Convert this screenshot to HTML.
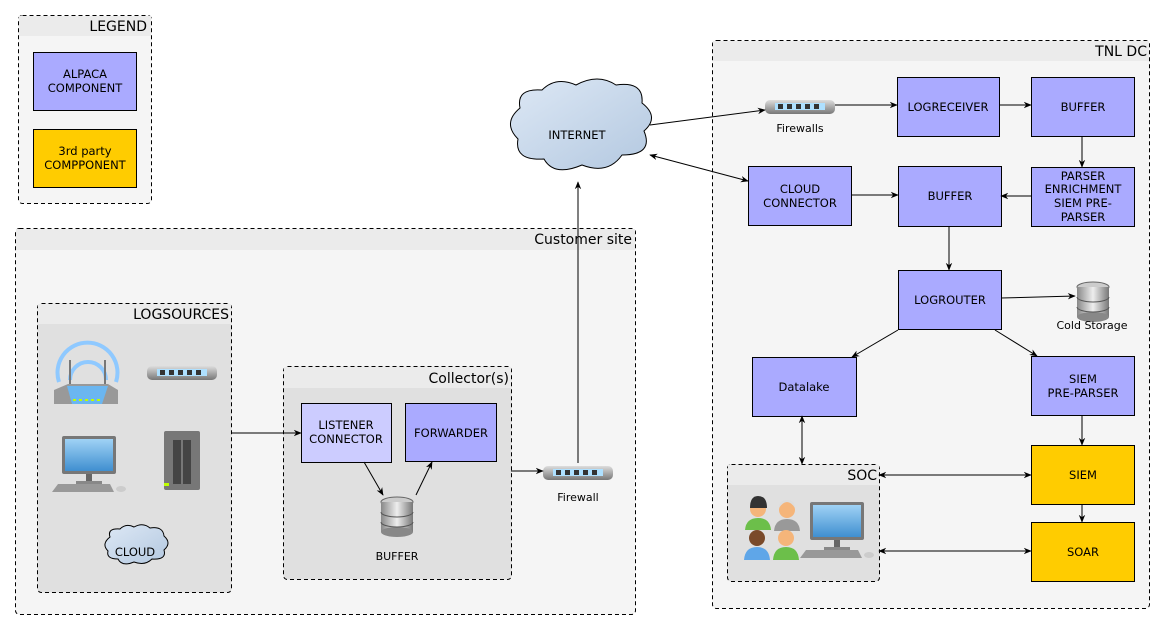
<!DOCTYPE html>
<html><head><meta charset="utf-8"><style>
html,body{margin:0;padding:0;background:#fff;}
svg{display:block;font-family:"DejaVu Sans","Liberation Sans",sans-serif;}
</style></head><body>
<svg width="1165" height="631" viewBox="0 0 1165 631" xmlns="http://www.w3.org/2000/svg">
<defs>
<marker id="a" viewBox="0 0 10 10" refX="9" refY="5" markerWidth="8" markerHeight="8" orient="auto-start-reverse"><path d="M0,1 L10,5 L0,9 L3,5 z" fill="#000"/></marker>
<linearGradient id="cl" x1="0" y1="0" x2="1" y2="1"><stop offset="0" stop-color="#dde8f5"/><stop offset="1" stop-color="#b3c8e0"/></linearGradient>
<linearGradient id="sw" x1="0" y1="0" x2="0" y2="1"><stop offset="0" stop-color="#ddd"/><stop offset="1" stop-color="#777"/></linearGradient>
<linearGradient id="db" x1="0" y1="0" x2="1" y2="0"><stop offset="0" stop-color="#888"/><stop offset=".5" stop-color="#eee"/><stop offset="1" stop-color="#777"/></linearGradient>
<linearGradient id="scr" x1="0" y1="0" x2="0" y2="1"><stop offset="0" stop-color="#9fd2f5"/><stop offset="1" stop-color="#3f8fd0"/></linearGradient>
<g id="switch"><rect x="0" y="4" width="70" height="14" rx="5" fill="url(#sw)"/><rect x="10" y="7" width="50" height="7" fill="#aee0ff"/><rect x="13" y="8" width="5" height="5" fill="#333"/><rect x="22" y="8" width="5" height="5" fill="#333"/><rect x="31" y="8" width="5" height="5" fill="#333"/><rect x="40" y="8" width="5" height="5" fill="#333"/><rect x="49" y="8" width="5" height="5" fill="#333"/></g>
<g id="dbi"><ellipse cx="0" cy="0" rx="16" ry="5" fill="#ccc" stroke="#666"/><rect x="-16" y="0" width="32" height="30" fill="url(#db)"/><ellipse cx="0" cy="30" rx="16" ry="5" fill="#888"/><path d="M-16,10 A16,5 0 0 0 16,10 M-16,20 A16,5 0 0 0 16,20" stroke="#555" fill="none"/></g>
<g id="pc"><rect x="10" y="0" width="54" height="38" rx="2" fill="#777"/><rect x="13" y="3" width="48" height="32" fill="url(#scr)"/><rect x="34" y="38" width="6" height="8" fill="#666"/><rect x="24" y="45" width="26" height="3" fill="#888"/><path d="M0,56 L6,48 L58,48 L62,56 z" fill="#999"/><ellipse cx="69" cy="53" rx="5" ry="3" fill="#ccc"/></g>
</defs>
<g font-size="11.5" text-anchor="middle" fill="#000">
<!-- Legend -->
<rect x="18.5" y="15.5" width="133" height="188" rx="4" fill="#f5f5f5" stroke="#000" stroke-dasharray="4,3"/>
<rect x="19" y="16" width="132" height="20" fill="#ebebeb"/>
<text x="147" y="31" text-anchor="end" font-size="14">LEGEND</text>
<rect x="33.5" y="52.5" width="103" height="58" fill="#aaaaff" stroke="#000"/>
<text x="85" y="78">ALPACA</text><text x="85" y="92">COMPONENT</text>
<rect x="33.5" y="129.5" width="103" height="58" fill="#ffcc00" stroke="#000"/>
<text x="85" y="155">3rd party</text><text x="85" y="169">COMPPONENT</text>
<!-- Customer site -->
<rect x="15.5" y="228.5" width="620" height="386" rx="4" fill="#f5f5f5" stroke="#000" stroke-dasharray="4,3"/>
<rect x="16" y="229" width="619" height="21" fill="#ebebeb"/>
<text x="632" y="244" text-anchor="end" font-size="14">Customer site</text>
<rect x="37.5" y="303.5" width="194" height="289" rx="4" fill="#e0e0e0" stroke="#000" stroke-dasharray="4,3"/>
<rect x="38" y="304" width="193" height="20" fill="#ebebeb"/>
<text x="229" y="319" text-anchor="end" font-size="14">LOGSOURCES</text>
<!-- router -->
<g fill="none" stroke="#8fc9ff" stroke-width="4"><path d="M59,382 A30,30 0 1 1 116,382"/><path d="M70,380 A18,18 0 1 1 106,380"/></g>
<rect x="69" y="360" width="2" height="30" fill="#777"/><rect x="104" y="360" width="2" height="30" fill="#777"/>
<path d="M54,390 L68,384 L108,384 L118,390 L118,404 L54,404 z" fill="#999"/><path d="M67,386 L108,386 L102,404 L72,404z" fill="#6bb6f0"/>
<g fill="#bfff00"><rect x="73" y="399" width="3" height="2"/><rect x="79" y="399" width="3" height="2"/><rect x="85" y="399" width="3" height="2"/><rect x="91" y="399" width="3" height="2"/><rect x="97" y="399" width="3" height="2"/></g>
<use href="#switch" x="147" y="362"/>
<use href="#pc" x="52" y="436"/>
<rect x="164" y="431" width="36" height="59" rx="2" fill="#777"/><rect x="173" y="440" width="8" height="44" fill="#444"/><rect x="183" y="440" width="8" height="44" fill="#444"/><rect x="164" y="483" width="5" height="3" fill="#bfff00"/>
<path d="M110,537 q-3,-9 10,-8 q6,-6 14,-2 q9,-5 16,1 q13,-2 14,8 q8,7 0,14 q3,10 -12,9 q-7,7 -18,3 q-12,5 -16,-3 q-12,0 -10,-8 q-7,-7 2,-14z" fill="url(#cl)" stroke="#000"/>
<text x="135" y="556">CLOUD</text>
<!-- Collector -->
<rect x="283.5" y="366.5" width="228" height="213" rx="4" fill="#e0e0e0" stroke="#000" stroke-dasharray="4,3"/>
<rect x="284" y="367" width="227" height="21" fill="#ebebeb"/>
<text x="509" y="383" text-anchor="end" font-size="14">Collector(s)</text>
<rect x="301.5" y="403.5" width="90" height="59" fill="#ccccff" stroke="#000"/>
<text x="346" y="429">LISTENER</text><text x="346" y="443">CONNECTOR</text>
<rect x="405.5" y="403.5" width="91" height="58" fill="#aaaaff" stroke="#000"/>
<text x="451" y="437">FORWARDER</text>
<use href="#dbi" x="397" y="502"/>
<text x="397" y="560" font-size="11">BUFFER</text>
<use href="#switch" x="543" y="462"/>
<text x="578" y="501" font-size="11">Firewall</text>
<!-- Internet -->
<path d="M520,108 q-4,-20 22,-18 q14,-14 34,-5 q22,-12 40,0 q28,-4 26,18 q18,14 2,28 q10,24 -22,24 q-14,20 -40,10 q-28,12 -38,-6 q-30,2 -26,-20 q-16,-16 2,-31z" fill="url(#cl)" stroke="#000"/>
<text x="577" y="139">INTERNET</text>
<!-- TNL DC -->
<rect x="712.5" y="40.5" width="437" height="568" rx="4" fill="#f5f5f5" stroke="#000" stroke-dasharray="4,3"/>
<rect x="713" y="41" width="436" height="20" fill="#ebebeb"/>
<text x="1147" y="56" text-anchor="end" font-size="14">TNL DC</text>
<use href="#switch" x="765" y="96"/>
<text x="800" y="132" font-size="11">Firewalls</text>
<g fill="#aaaaff" stroke="#000">
<rect x="897.5" y="77.5" width="102" height="59"/>
<rect x="1031.5" y="77.5" width="103" height="59"/>
<rect x="1031.5" y="167.5" width="103" height="59"/>
<rect x="748.5" y="166.5" width="103" height="59"/>
<rect x="898.5" y="166.5" width="103" height="60"/>
<rect x="898.5" y="270.5" width="103" height="59"/>
<rect x="752.5" y="357.5" width="104" height="59"/>
<rect x="1031.5" y="356.5" width="103" height="59"/>
</g>
<g fill="#ffcc00" stroke="#000"><rect x="1031.5" y="445.5" width="103" height="59"/><rect x="1031.5" y="522.5" width="103" height="59"/></g>
<text x="948" y="111">LOGRECEIVER</text>
<text x="1083" y="111">BUFFER</text>
<text x="1083" y="180">PARSER</text><text x="1083" y="193">ENRICHMENT</text><text x="1083" y="207">SIEM PRE-</text><text x="1083" y="221">PARSER</text>
<text x="800" y="193">CLOUD</text><text x="800" y="207">CONNECTOR</text>
<text x="950" y="200">BUFFER</text>
<text x="950" y="304">LOGROUTER</text>
<text x="804" y="391">Datalake</text>
<text x="1083" y="383">SIEM</text><text x="1083" y="397">PRE-PARSER</text>
<text x="1083" y="479">SIEM</text>
<text x="1083" y="556">SOAR</text>
<use href="#dbi" x="1093" y="287"/>
<text x="1092" y="329" font-size="11">Cold Storage</text>
<!-- SOC -->
<rect x="727.5" y="464.5" width="152" height="117" rx="4" fill="#e0e0e0" stroke="#000" stroke-dasharray="4,3"/>
<rect x="728" y="465" width="151" height="20" fill="#ebebeb"/>
<text x="877" y="480" text-anchor="end" font-size="14">SOC</text>
<circle cx="758" cy="509" r="8" fill="#f5b57a"/><path d="M750,508 q0,-12 8,-12 q9,0 9,12z" fill="#333"/><path d="M745,530 q1,-12 13,-12 q12,0 13,12z" fill="#6cbf4a"/>
<circle cx="787" cy="510" r="8" fill="#f5b57a"/><path d="M779,508 q8,-12 16,0 q0,-8 -8,-8 q-8,0 -8,8z" fill="#ddd"/><path d="M774,531 q1,-12 13,-12 q12,0 13,12z" fill="#999"/>
<circle cx="757" cy="538" r="8" fill="#7a4a2a"/><path d="M744,560 q1,-13 13,-13 q12,0 13,13z" fill="#5fa6e8"/>
<circle cx="786" cy="538" r="8" fill="#f5b57a"/><path d="M773,560 q1,-13 13,-13 q12,0 13,13z" fill="#6cbf4a"/>
<use href="#pc" x="800" y="502" transform="translate(0,0)"/>
<!-- connectors -->
<g stroke="#000" stroke-width="1" fill="none" marker-end="url(#a)">
<path d="M231,433 H301"/>
<path d="M364,462 L383,495"/>
<path d="M416,495 L432,462"/>
<path d="M511,471 H543"/>
<path d="M578,463 V182"/>
<path d="M650,125 L765,110"/>
<path d="M650,155 L748,181" marker-start="url(#a)"/>
<path d="M835,105 H897"/>
<path d="M999,105 H1031"/>
<path d="M1082,136 V167"/>
<path d="M1031,196 H1001"/>
<path d="M851,195 H898"/>
<path d="M949,226 V270"/>
<path d="M1001,298 L1075,296"/>
<path d="M898,330 L852,357"/>
<path d="M995,330 L1037,356"/>
<path d="M802,416 V464" marker-start="url(#a)"/>
<path d="M879,475 H1031" marker-start="url(#a)"/>
<path d="M879,551 H1031" marker-start="url(#a)"/>
<path d="M1082,415 V445"/>
<path d="M1082,504 V522"/>
</g>
</g>
</svg>
</body></html>
